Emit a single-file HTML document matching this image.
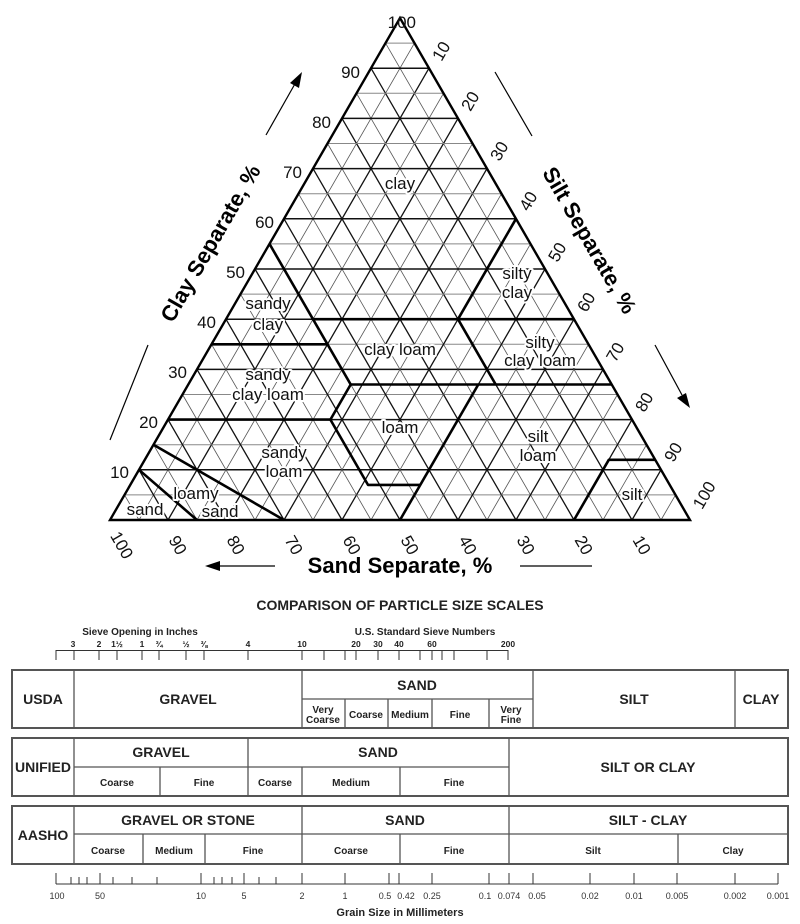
<!DOCTYPE html>
<html><head><meta charset="utf-8"><style>
html,body{margin:0;padding:0;background:#fff}
svg{display:block}
text{font-family:"Liberation Sans",sans-serif}
.lab{font-size:17px;fill:#111;paint-order:stroke;stroke:#fff;stroke-width:4px;stroke-linejoin:round;text-anchor:middle}
.num{font-size:17px;fill:#111;text-anchor:middle}
.tt{font-size:22px;font-weight:bold;text-anchor:middle}
.b{font-weight:bold;text-anchor:middle;fill:#222}
.n{font-family:"Liberation Sans Narrow","Liberation Sans",sans-serif}
.s{font-size:9px;fill:#333;text-anchor:middle}
</style></head><body>
<svg id="s" width="800" height="924" viewBox="0 0 800 924" xmlns="http://www.w3.org/2000/svg">
<g id="grid"></g>
<g id="bound" fill="none" stroke="#000" stroke-width="2.6" stroke-linejoin="round">
<polyline points="269.5,243.9 350.7,384.5 351,384.5"/>
<polyline points="211.5,344.3 327,344.3"/>
<polyline points="313,319.2 574,319.2"/>
<polyline points="516,218.8 458,319.2 495.7,384.5"/>
<polyline points="350.7,384.5 611.7,384.5"/>
<polyline points="350.7,384.5 330.4,419.6 368,484.9 420.3,484.9"/>
<polyline points="400,520 478.3,384.5"/>
<polyline points="168,419.6 330.4,419.6"/>
<polyline points="574,520 608.8,459.8 655.2,459.8"/>
<polyline points="153.5,444.7 284,520"/>
<polyline points="139,469.8 197,520"/>
</g>
<polygon points="400,18 110,520 690,520" fill="none" stroke="#000" stroke-width="2.4" stroke-linejoin="miter"/>
<text class="lab" x="400" y="189">clay</text>
<text class="lab" x="517" y="279">silty</text><text class="lab" x="517" y="298">clay</text>
<text class="lab" x="268" y="309">sandy</text><text class="lab" x="268" y="330">clay</text>
<text class="lab" x="400" y="355">clay loam</text>
<text class="lab" x="540" y="348">silty</text><text class="lab" x="540" y="366">clay loam</text>
<text class="lab" x="268" y="380">sandy</text><text class="lab" x="268" y="400">clay loam</text>
<text class="lab" x="400" y="433">loam</text>
<text class="lab" x="538" y="442">silt</text><text class="lab" x="538" y="461">loam</text>
<text class="lab" x="284" y="458">sandy</text><text class="lab" x="284" y="477">loam</text>
<text class="lab" x="196" y="499">loamy</text>
<text class="lab" x="145" y="515">sand</text><text class="lab" x="220" y="517">sand</text>
<text class="lab" x="632" y="500">silt</text>
<g class="num" style="text-anchor:end">
<text x="416" y="28">100</text>
<text x="360" y="78">90</text><text x="331" y="128">80</text><text x="302" y="178">70</text>
<text x="274" y="228">60</text><text x="245" y="278">50</text><text x="216" y="328">40</text>
<text x="187" y="378">30</text><text x="158" y="428">20</text><text x="129" y="478">10</text>
</g>
<g class="num">
<text transform="translate(441,51) rotate(-60)" y="6">10</text>
<text transform="translate(470,101) rotate(-60)" y="6">20</text>
<text transform="translate(499,151) rotate(-60)" y="6">30</text>
<text transform="translate(528,201) rotate(-60)" y="6">40</text>
<text transform="translate(557,252) rotate(-60)" y="6">50</text>
<text transform="translate(586,302) rotate(-60)" y="6">60</text>
<text transform="translate(615,352) rotate(-60)" y="6">70</text>
<text transform="translate(644,402) rotate(-60)" y="6">80</text>
<text transform="translate(673,452) rotate(-60)" y="6">90</text>
<text transform="translate(704,495) rotate(-60)" y="6">100</text>
</g>
<g class="num">
<text transform="translate(122,545) rotate(60)" y="6">100</text>
<text transform="translate(178,545) rotate(60)" y="6">90</text>
<text transform="translate(236,545) rotate(60)" y="6">80</text>
<text transform="translate(294,545) rotate(60)" y="6">70</text>
<text transform="translate(352,545) rotate(60)" y="6">60</text>
<text transform="translate(410,545) rotate(60)" y="6">50</text>
<text transform="translate(468,545) rotate(60)" y="6">40</text>
<text transform="translate(526,545) rotate(60)" y="6">30</text>
<text transform="translate(584,545) rotate(60)" y="6">20</text>
<text transform="translate(642,545) rotate(60)" y="6">10</text>
</g>
<text class="tt" transform="translate(210,243) rotate(-60)" y="8">Clay Separate, %</text>
<text class="tt" transform="translate(590,240) rotate(60)" y="8">Silt Separate, %</text>
<text class="tt" x="400" y="573">Sand Separate, %</text>
<g stroke="#000" stroke-width="1.2">
<line x1="266" y1="135" x2="296" y2="82"/>
<line x1="495" y1="72" x2="532" y2="136"/>
<line x1="655" y1="345" x2="682" y2="395"/>
<line x1="110" y1="440" x2="148" y2="345"/>
<line x1="275" y1="566" x2="218" y2="566"/>
<line x1="520" y1="566" x2="592" y2="566"/>
</g>
<g fill="#000">
<polygon points="302,72 299,88 290,83"/>
<polygon points="690,408 677,398 686,393"/>
<polygon points="205,566 220,561 220,571"/>
</g>

<text class="b" x="400" y="610" font-size="14">COMPARISON OF PARTICLE SIZE SCALES</text>
<text class="b" x="140" y="635" font-size="10">Sieve Opening in Inches</text>
<text class="b" x="425" y="635" font-size="10">U.S. Standard Sieve Numbers</text>
<g class="b" font-size="8.5">
<text x="73" y="647">3</text><text x="99" y="647">2</text><text x="117" y="647">1½</text><text x="142" y="647">1</text><text x="159" y="647">¾</text><text x="186" y="647">½</text><text x="204" y="647">⅜</text><text x="248" y="647">4</text><text x="302" y="647">10</text><text x="356" y="647">20</text><text x="378" y="647">30</text><text x="399" y="647">40</text><text x="432" y="647">60</text><text x="508" y="647">200</text>
</g>
<g stroke="#333" stroke-width="1">
<line x1="56" y1="650.5" x2="508" y2="650.5"/>
<path id="sticks" d=""/>
</g>
<g fill="none" stroke="#555" stroke-width="1.3">
<rect x="12" y="670" width="776" height="58" stroke-width="2"/>
<path d="M74 670V728M302 670V728M533 670V728M735 670V728M302 699H533M345 699V728M388 699V728M432 699V728M489 699V728"/>
<rect x="12" y="738" width="776" height="58" stroke-width="2"/>
<path d="M74 738V796M74 767H509M248 738V796M509 738V796M160 767V796M302 767V796M400 767V796"/>
<rect x="12" y="806" width="776" height="58" stroke-width="2"/>
<path d="M74 806V864M74 834H788M302 806V864M509 806V864M143 834V864M205 834V864M400 834V864M678 834V864"/>
</g>
<g class="b n" font-size="14">
<text x="43" y="704">USDA</text><text x="188" y="704">GRAVEL</text><text x="417" y="690">SAND</text><text x="634" y="704">SILT</text><text x="761" y="704">CLAY</text>
<text x="43" y="772">UNIFIED</text><text x="161" y="757">GRAVEL</text><text x="378" y="757">SAND</text><text x="648" y="772">SILT OR CLAY</text>
<text x="43" y="840">AASHO</text><text x="188" y="825">GRAVEL OR STONE</text><text x="405" y="825">SAND</text><text x="648" y="825">SILT - CLAY</text>
</g>
<g class="b n" font-size="10">
<text x="323" y="713">Very</text><text x="323" y="723">Coarse</text><text x="366" y="718">Coarse</text><text x="410" y="718">Medium</text><text x="460" y="718">Fine</text><text x="511" y="713">Very</text><text x="511" y="723">Fine</text>
<text x="117" y="786">Coarse</text><text x="204" y="786">Fine</text><text x="275" y="786">Coarse</text><text x="351" y="786">Medium</text><text x="454" y="786">Fine</text>
<text x="108" y="854">Coarse</text><text x="174" y="854">Medium</text><text x="253" y="854">Fine</text><text x="351" y="854">Coarse</text><text x="454" y="854">Fine</text><text x="593" y="854">Silt</text><text x="733" y="854">Clay</text>
</g>
<g stroke="#333" stroke-width="1">
<line x1="56" y1="884" x2="778" y2="884"/>
<path id="gticks" d=""/>
</g>
<g class="s n">
<text x="57" y="899">100</text><text x="100" y="899">50</text><text x="201" y="899">10</text><text x="244" y="899">5</text><text x="302" y="899">2</text><text x="345" y="899">1</text><text x="385" y="899">0.5</text><text x="406" y="899">0.42</text><text x="432" y="899">0.25</text><text x="485" y="899">0.1</text><text x="509" y="899">0.074</text><text x="537" y="899">0.05</text><text x="590" y="899">0.02</text><text x="634" y="899">0.01</text><text x="677" y="899">0.005</text><text x="735" y="899">0.002</text><text x="778" y="899">0.001</text>
</g>
<text class="b" x="400" y="916" font-size="11">Grain Size in Millimeters</text>
</svg>
<script>
(function(){
var NS="http://www.w3.org/2000/svg",g=document.getElementById("grid");
function L(x1,y1,x2,y2,c,w){var l=document.createElementNS(NS,"line");l.setAttribute("x1",x1);l.setAttribute("y1",y1);l.setAttribute("x2",x2);l.setAttribute("y2",y2);l.setAttribute("stroke",c);l.setAttribute("stroke-width",w);g.appendChild(l);}
for(var k=5;k<100;k+=5){
 var major=k%10==0,c=major?"#111":"#888",cd=major?"#111":"#555",w=major?1.5:1;
 var y=520-k*5.02;L(110+k*2.9,y,690-k*2.9,y,c,w);
 var r=100-k;L(110+r*5.8,520,110+r*2.9,520-r*5.02,cd,major?1.3:0.8);
 L(110+k*5.8,520,110+(k+(100-k)/2)*5.8,520-(100-k)*5.02,cd,major?1.3:0.8);
}
var d="";[56,74,99,117,142,159,186,204,248,302,324,345,356,378,399,420,432,442,454,487,508].forEach(function(x){d+="M"+x+" 650V660";});
document.getElementById("sticks").setAttribute("d",d);
d="";[[56,11],[71,7],[79,7],[87,7],[100,11],[113,7],[132,7],[157,7],[201,11],[214,7],[222,7],[232,7],[244,11],[259,7],[276,7],[302,11],[345,11],[389,11],[399,11],[432,11],[489,11],[509,11],[533,11],[590,11],[634,11],[677,11],[735,11],[778,11]].forEach(function(t){d+="M"+t[0]+" 884V"+(884-t[1]);});
document.getElementById("gticks").setAttribute("d",d);
})();
</script>
</body></html>
